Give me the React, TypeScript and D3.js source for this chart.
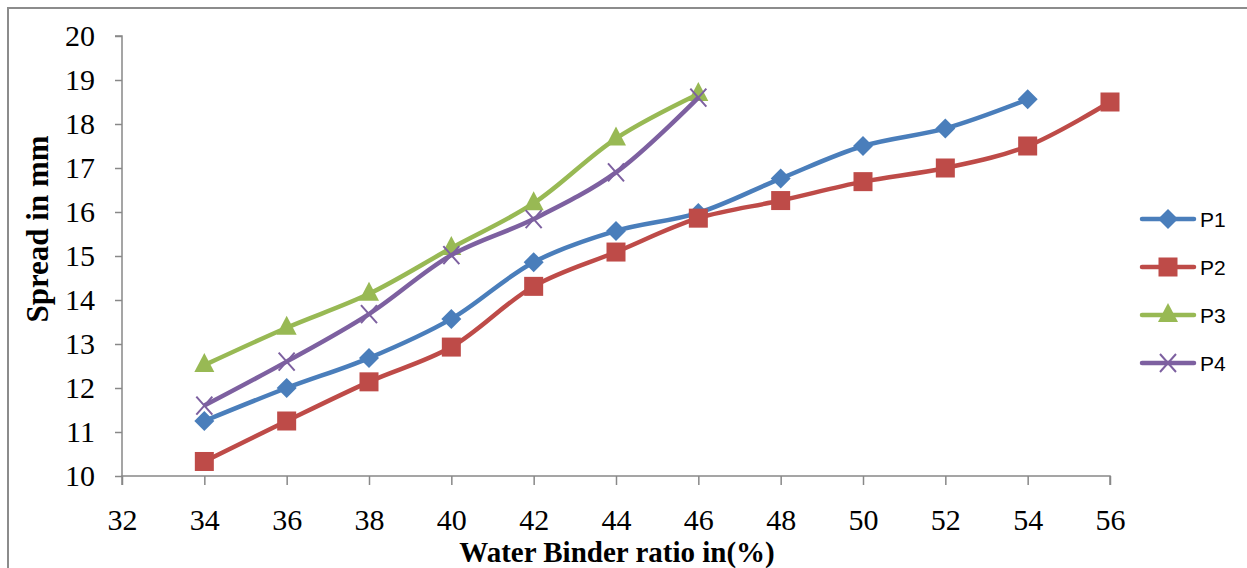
import * as d3 from "d3";
import { useEffect, useRef } from "react";

const width = 1247;
const height = 568;
const margin = { top: 36, right: 137, bottom: 92, left: 122 };

const xTicks = [32, 34, 36, 38, 40, 42, 44, 46, 48, 50, 52, 54, 56];
const yTicks = [10, 11, 12, 13, 14, 15, 16, 17, 18, 19, 20];

const p1X = [34, 36, 38, 40, 42, 44, 46, 48, 50, 52, 54];
const p1Y = [11.25, 12.0, 12.68, 13.57, 14.86, 15.57, 15.98, 16.76, 17.5, 17.9, 18.56];
const p2X = [34, 36, 38, 40, 42, 44, 46, 48, 50, 52, 54, 56];
const p2Y = [10.33, 11.25, 12.14, 12.93, 14.31, 15.09, 15.86, 16.26, 16.69, 17.0, 17.5, 18.5];
const p3X = [34, 36, 38, 40, 42, 44, 46];
const p3Y = [12.52, 13.37, 14.14, 15.18, 16.2, 17.67, 18.68];
const p4X = [34, 36, 38, 40, 42, 44, 46];
const p4Y = [11.6, 12.6, 13.68, 15.02, 15.84, 16.9, 18.6];

const series = [
  { name: "P1", xs: p1X, ys: p1Y, color: "#4A7EBB", marker: "diamond" },
  { name: "P2", xs: p2X, ys: p2Y, color: "#BE4B48", marker: "square" },
  { name: "P3", xs: p3X, ys: p3Y, color: "#98B954", marker: "triangle" },
  { name: "P4", xs: p4X, ys: p4Y, color: "#7D60A0", marker: "x" },
];

const serif = "'Liberation Serif', 'Times New Roman', serif";

function drawMarker(
  g: d3.Selection<SVGGElement, unknown, null, undefined>,
  type: string,
  cx: number,
  cy: number,
  color: string
) {
  if (type === "diamond") {
    g.append("path")
      .attr("d", `M${cx},${cy - 10}L${cx + 10},${cy}L${cx},${cy + 10}L${cx - 10},${cy}Z`)
      .attr("fill", color);
  } else if (type === "square") {
    g.append("rect")
      .attr("x", cx - 9.5)
      .attr("y", cy - 9.5)
      .attr("width", 19)
      .attr("height", 19)
      .attr("fill", color);
  } else if (type === "triangle") {
    g.append("path")
      .attr("d", `M${cx},${cy - 12}L${cx + 10},${cy + 7}L${cx - 10},${cy + 7}Z`)
      .attr("fill", color);
  } else {
    g.append("path")
      .attr("d", `M${cx - 8},${cy - 9}L${cx + 8},${cy + 9}M${cx + 8},${cy - 9}L${cx - 8},${cy + 9}`)
      .attr("stroke", color)
      .attr("stroke-width", 2)
      .attr("fill", "none");
  }
}

const App = () => {
  const ref = useRef<SVGSVGElement | null>(null);

  useEffect(() => {
    if (!ref.current) return;
    const svg = d3.select(ref.current);
    svg.selectAll("*").remove();

    const x = d3
      .scaleLinear()
      .domain([32, 56])
      .range([margin.left, width - margin.right]);
    const y = d3
      .scaleLinear()
      .domain([10, 20])
      .range([height - margin.bottom, margin.top]);

    // outer frame
    svg
      .append("path")
      .attr("d", `M8,${height}V8H${width}`)
      .attr("fill", "none")
      .attr("stroke", "#8c8c8c")
      .attr("stroke-width", 2);

    // y axis
    const yAxis = svg
      .append("g")
      .attr("transform", `translate(${margin.left},0)`)
      .call(d3.axisLeft(y).tickValues(yTicks).tickSize(7).tickPadding(20).tickFormat(d3.format("d")));
    yAxis.attr("font-family", null).attr("font-size", null);
    yAxis.select(".domain").attr("stroke", "#888").attr("stroke-width", 1.5).attr("d", `M-7,${y(20)}H0V${y(10)}`);
    yAxis.selectAll(".tick line").attr("stroke", "#888").attr("stroke-width", 1.5);
    yAxis
      .selectAll(".tick text")
      .style("font-family", serif)
      .style("font-size", "30px")
      .attr("fill", "#000");

    // x axis
    const xAxis = svg
      .append("g")
      .attr("transform", `translate(0,${y(10)})`)
      .call(d3.axisBottom(x).tickValues(xTicks).tickSize(9).tickPadding(24).tickFormat(d3.format("d")));
    xAxis.attr("font-family", null).attr("font-size", null);
    xAxis.select(".domain").attr("stroke", "#888").attr("stroke-width", 1.5).attr("d", `M${x(32)},9V0H${x(56)}V9`);
    xAxis.selectAll(".tick line").attr("stroke", "#888").attr("stroke-width", 1.5);
    xAxis
      .selectAll(".tick text")
      .style("font-family", serif)
      .style("font-size", "30px")
      .attr("fill", "#000");

    // axis titles
    svg
      .append("text")
      .attr("x", 617)
      .attr("y", 562)
      .attr("text-anchor", "middle")
      .style("font-family", serif)
      .style("font-weight", "bold")
      .style("font-size", "29px")
      .text("Water Binder ratio in(%)");
    svg
      .append("text")
      .attr("transform", `translate(48,229) rotate(-90)`)
      .attr("text-anchor", "middle")
      .style("font-family", serif)
      .style("font-weight", "bold")
      .style("font-size", "31px")
      .text("Spread in mm");

    const line = d3
      .line<[number, number]>()
      .x((d) => x(d[0]))
      .y((d) => y(d[1]))
      .curve(d3.curveCatmullRom.alpha(0.5));

    series.forEach((s) => {
      const pts = s.xs.map((v, i) => [v, s.ys[i]] as [number, number]);
      svg
        .append("path")
        .attr("d", line(pts))
        .attr("fill", "none")
        .attr("stroke", s.color)
        .attr("stroke-width", 4.5)
        .attr("stroke-linejoin", "round");
      const g = svg.append("g");
      pts.forEach((p) => drawMarker(g, s.marker, x(p[0]), y(p[1]), s.color));
    });

    // legend
    series.forEach((s, i) => {
      const ly = 219 + i * 48;
      const g = svg.append("g");
      g.append("line")
        .attr("x1", 1142)
        .attr("x2", 1194)
        .attr("y1", ly)
        .attr("y2", ly)
        .attr("stroke", s.color)
        .attr("stroke-width", 4.5)
        .attr("stroke-linecap", "round");
      drawMarker(g, s.marker, 1168, ly, s.color);
      g.append("text")
        .attr("x", 1200)
        .attr("y", ly + 8)
        .style("font-family", "'Liberation Sans', Arial, sans-serif")
        .style("font-size", "21px")
        .attr("fill", "#000")
        .text(s.name);
    });
  }, []);

  return (
    <svg
      ref={ref}
      width={width}
      height={height}
      style={{ position: "absolute", left: 0, top: 0, background: "#fff" }}
    />
  );
};

export default App;
